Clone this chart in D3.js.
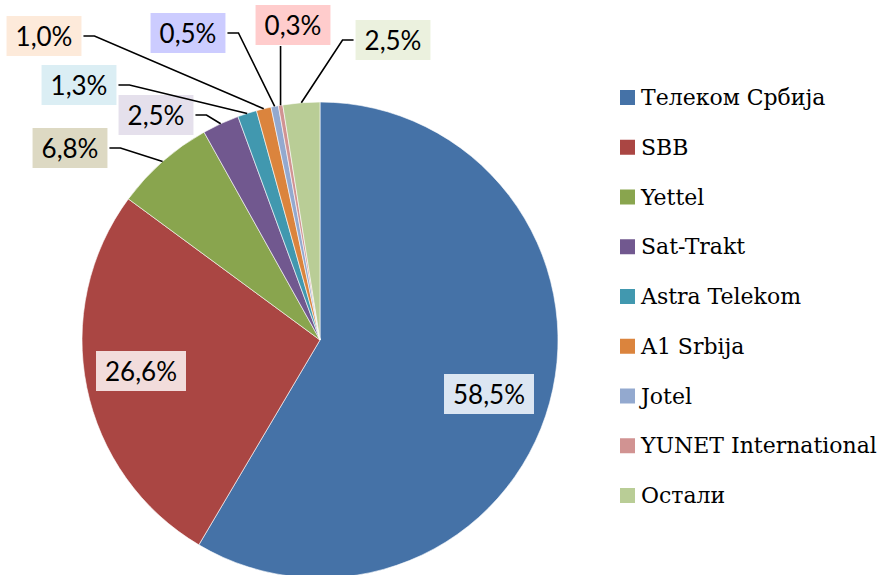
<!DOCTYPE html>
<html><head><meta charset="utf-8">
<script src="https://cdn.jsdelivr.net/npm/d3@7"></script>
<style>html,body{margin:0;padding:0;background:#fff;}</style>
</head><body>
<svg id="chart" width="881" height="575"></svg>
<script>
const categories = ["Телеком Србија","SBB","Yettel","Sat-Trakt","Astra Telekom","A1 Srbija","Jotel","YUNET International","Остали"];
const values = [58.5, 26.6, 6.8, 2.5, 1.3, 1.0, 0.5, 0.3, 2.5];
const labels = ["58,5%","26,6%","6,8%","2,5%","1,3%","1,0%","0,5%","0,3%","2,5%"];
const colors = ["#4572a7","#aa4643","#89a54e","#71588f","#4198af","#db843d","#93a9cf","#d19392","#b9cd96"];
const boxColors = ["#dce6f2","#f2dcdb","#ddd9c3","#e5e0ec","#dbeef4","#fdeada","#ccccff","#ffcccc","#ebf1de"];
// label layout: box centers
const labelPos = [
  {x:489,y:394,inside:true},
  {x:141,y:371,inside:true},
  {x:70,y:148,side:"left"},
  {x:156,y:115,side:"left"},
  {x:79,y:85,side:"left"},
  {x:44,y:36,side:"left"},
  {x:188,y:33,side:"left"},
  {x:293,y:25,side:"top"},
  {x:393,y:40,side:"right"}
];

const svg = d3.select("#chart");
const cx = 320, cy = 340, R = 238;
const g = svg.append("g").attr("transform",`translate(${cx},${cy})`);
const pie = d3.pie().sort(null).value(d=>d);
const arcs = pie(values);
const arc = d3.arc().innerRadius(0).outerRadius(R);

g.selectAll("path.slice").data(arcs).enter().append("path")
  .attr("class","slice")
  .attr("d",arc)
  .attr("fill",(d,i)=>colors[i])
  .attr("stroke","#ffffff").attr("stroke-width",0.6);

// labels
const lg = svg.append("g");
arcs.forEach((d,i)=>{
  const p = labelPos[i];
  const t = lg.append("text")
    .attr("x",p.x).attr("y",p.y)
    .attr("text-anchor","middle")
    .attr("dominant-baseline","central")
    .style("font-family","Lato, 'Open Sans', sans-serif")
    .style("font-size","26px")
    .attr("fill","#000")
    .text(labels[i]);
  const bb = t.node().getBBox();
  const padX = 9;
  const bx = p.x - bb.width/2 - padX, bw = bb.width + 2*padX;
  const by = p.y - 20, bh = 40;
  lg.insert("rect","text")
    .attr("x",bx).attr("y",by).attr("width",bw).attr("height",bh)
    .attr("fill",boxColors[i]);
  if(!p.inside){
    const mid = (d.startAngle+d.endAngle)/2;
    const ex = cx + R*Math.sin(mid), ey = cy - R*Math.cos(mid);
    let pts;
    if(p.side==="left"){
      const sx = bx + bw + 2;
      pts = [[sx,p.y],[sx+11,p.y],[ex,ey]];
    } else if(p.side==="right"){
      const sx = bx - 2;
      pts = [[sx,p.y],[sx-11,p.y],[ex,ey]];
    } else {
      pts = [[ex,by+bh+1],[ex,ey]];
    }
    lg.append("path").attr("d",d3.line()(pts))
      .attr("fill","none").attr("stroke","#000").attr("stroke-width",1.6);
  }
});

// legend
const leg = svg.append("g");
const y0 = 105, dy = 49.75;
const legFont = "'DejaVu Serif', 'Liberation Serif', serif";
// fit font size so the longest entry spans the same width as the reference
const probe = svg.append("text").style("font-family",legFont).style("font-size","20px")
  .text("YUNET International");
const w20 = probe.node().getComputedTextLength();
probe.remove();
const legSize = Math.min(25, 20*236/w20);
categories.forEach((c,i)=>{
  const y = y0 + i*dy;
  leg.append("rect").attr("x",620).attr("y",y-15).attr("width",15).attr("height",15)
    .attr("fill",colors[i]);
  leg.append("text").attr("x",641).attr("y",y)
    .style("font-family",legFont)
    .style("font-size",legSize+"px").attr("fill","#000").text(c);
});
</script>
</body></html>
